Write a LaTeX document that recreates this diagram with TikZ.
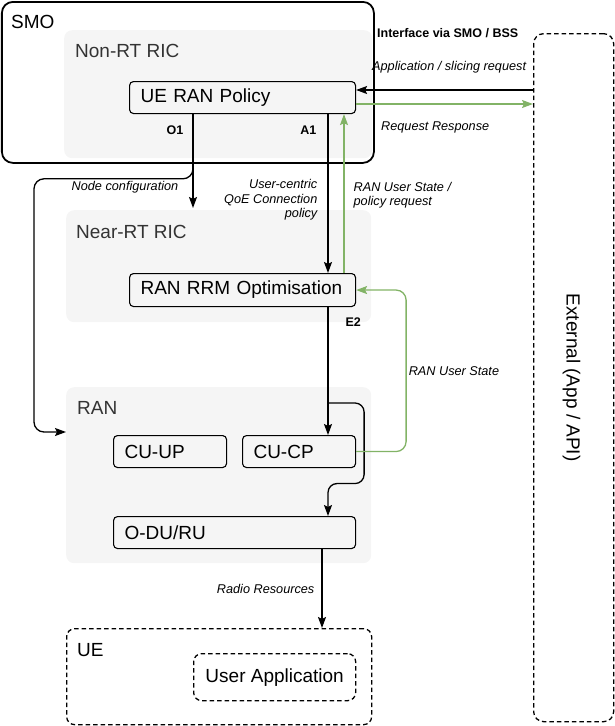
\documentclass[tikz,border=0pt]{standalone}
\usepackage{fontspec}
\setmainfont{Liberation Sans}
\usetikzlibrary{positioning, calc, arrows.meta}

\definecolor{areagray}{HTML}{F5F5F5}
\definecolor{titlegray}{HTML}{333333}
\definecolor{linkgreen}{HTML}{82B366}

\begin{document}
\begin{tikzpicture}[x=1pt, y=-1pt, >={Stealth[length=11pt, width=8pt, inset=2pt]},
	area/.style={fill=areagray, rounded corners=8, anchor=north west, inner sep=0},
	title/.style={anchor=west, inner sep=0, font=\fontsize{19}{22}\selectfont},
	blk/.style={draw, rounded corners=4, line width=1.1pt, anchor=north west, minimum height=32, inner xsep=11, inner ysep=2pt, align=left, font=\fontsize{19}{22}\selectfont},
	dashbox/.style={draw, dash pattern=on 4.5pt off 3pt, line width=1.3pt, rounded corners=8, anchor=north west, inner sep=0},
	lnk/.style={->, line width=1.3pt},
	glnk/.style={lnk, draw=linkgreen},
	msg/.style={font=\fontsize{12.7}{14.5}\selectfont\itshape, inner sep=2pt},
	ifc/.style={font=\fontsize{12.5}{15}\selectfont\bfseries, inner sep=2pt}]

	\useasboundingbox (0,0) rectangle (614,726);

	% Blocos
	\node[area, draw, fill=none, line width=1.8pt, rounded corners=11, minimum width=372, minimum height=161] (smo) at (1,1) {};
	\node[title]                                              (smot)  at (11,22)  {SMO};
	\node[area, minimum width=308, minimum height=128]        (nrt)   at (64,30)  {};
	\node[title, text=titlegray]                              (nrtt)  at (75,51)  {Non-RT RIC};
	\node[blk, text width=204]                                (pol)   at (129,81) {UE RAN Policy};

	\node[area, minimum width=305, minimum height=112]        (near)  at (66,210) {};
	\node[title, text=titlegray]                              (neart) at (76,232) {Near-RT RIC};
	\node[blk, text width=204, minimum height=33]             (rrm)   at (129,273) {RAN RRM Optimisation};

	\node[area, minimum width=305, minimum height=176]        (ran)   at (66,387) {};
	\node[title, text=titlegray]                              (rant)  at (77,408) {RAN};
	\node[blk, text width=91]                                 (cuup)  at (113,435) {CU-UP};
	\node[blk, text width=91]                                 (cucp)  at (242,435) {CU-CP};
	\node[blk, text width=220]                                (odu)   at (113,516) {O-DU/RU};

	\node[dashbox, minimum width=305, minimum height=96]      (ue)    at (66,628) {};
	\node[title]                                              (uet)   at (77,650) {UE};
	\node[dashbox, minimum width=162, minimum height=47, font=\fontsize{19}{22}\selectfont] (app) at (193,653) {User Application};

	\node[dashbox, rounded corners=10, minimum width=80, minimum height=688] (ext) at (533,33) {};
	\node[rotate=-90, font=\fontsize{19}{22}\selectfont]      (extt)  at ($(ext.center)+(-2,0)$) {External (App / API)};

	\node[ifc, anchor=west] (ifcl)  at (375,33)  {Interface via SMO / BSS};
	\node[msg, anchor=west] (reql)  at (370,67)  {Application / slicing request};
	\node[msg, anchor=west] (respl) at (379,127) {Request Response};
	\node[msg]              (cfgl)  at (125,187) {Node configuration};

	\coordinate (polin)  at ($(pol.north east)+(0,9)$);
	\coordinate (polout) at ($(pol.north east)+(0,23)$);

	% Ligacoes
	\draw[lnk] (polin -| ext.west) -- (polin);
	\draw[glnk] (polout) -- (polout -| ext.west);

	\draw[lnk] ($(pol.south west)+(64,0)$) -- node[ifc, pos=0.17, left=7pt] {O1} ($(near.north west)+(127,-2)$);
	\draw[lnk, rounded corners=10] ($(pol.south west)+(64,50)$) |- ($(smo.south west)+(33,15)$) |- ($(ran.north west)+(0,45)$);

	\draw[lnk] ($(pol.south west)+(199,0)$)
		-- node[ifc, pos=0.1, left=9pt] {A1}
		   node[msg, pos=0.54, left=8pt, align=right] {User-centric\\QoE Connection\\policy}
		($(rrm.north west)+(199,0)$);
	\draw[glnk] ($(rrm.north west)+(215,0)$)
		-- node[msg, pos=0.49, right=7pt, align=left] {RAN User State /\\policy request}
		($(pol.south west)+(215,0)$);

	\draw[lnk] ($(rrm.south west)+(199,0)$) -- node[ifc, pos=0.12, right=15pt] {E2} ($(cucp.north west)+(86,0)$);
	\draw[lnk, rounded corners=9] ($(cucp.north west)+(86,-32)$) -| ($(cucp.east)+(8,32)$) -| ($(odu.north west)+(215,0)$);
	\draw[glnk, rounded corners=10] (cucp.east) -| node[msg, pos=0.75, right=0pt] {RAN User State} ($(rrm.east)+(50,0)$) -- (rrm.east);

	\draw[lnk] ($(odu.south west)+(209,0)$) -- node[msg, left=5pt] {Radio Resources} ($(ue.north west)+(256,0)$);
\end{tikzpicture}
\end{document}
